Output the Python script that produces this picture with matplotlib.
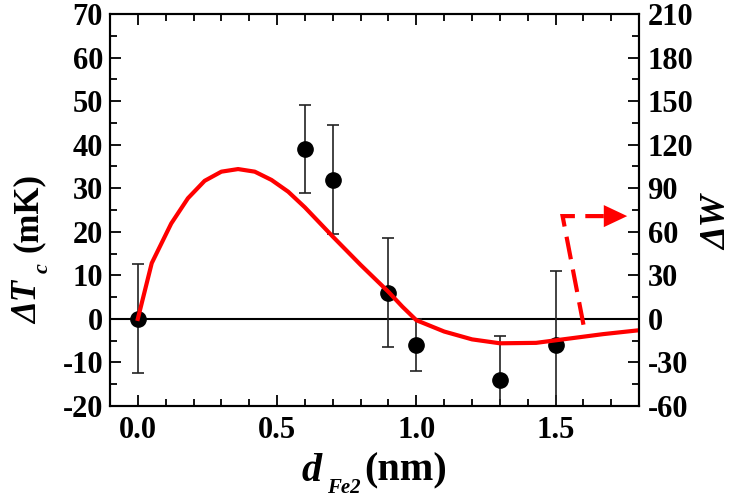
import matplotlib
matplotlib.use("Agg")
import matplotlib.pyplot as plt
from matplotlib.ticker import MultipleLocator
from matplotlib.patches import Polygon

plt.rcParams['font.family'] = ['Liberation Serif', 'DejaVu Serif']
plt.rcParams['font.weight'] = 'bold'
plt.rcParams['axes.unicode_minus'] = False

# Measured data (left axis, ΔTc in mK)
d_fe2 = [0.0, 0.6, 0.7, 0.9, 1.0, 1.3, 1.5]
delta_tc = [0.0, 39.0, 32.0, 6.0, -6.0, -14.0, -6.0]
delta_tc_err = [12.5, 10.0, 12.5, 12.5, 6.0, 10.0, 17.0]

# Theory curve (right axis, ΔW)
curve_x = [0.0, 0.05, 0.12, 0.18, 0.24, 0.30, 0.36, 0.42, 0.48, 0.54, 0.60,
           0.70, 0.80, 0.90, 0.95, 1.00, 1.10, 1.20, 1.30, 1.43, 1.55, 1.67, 1.80]
curve_w = [0.0, 38.4, 65.7, 83.1, 95.1, 101.4, 103.2, 101.4, 95.7, 87.6, 76.8,
           56.7, 37.2, 18.6, 8.4, -0.9, -8.7, -14.1, -16.8, -16.5, -13.5, -10.5, -7.8]

# Dashed arrow path (right axis coords)
arrow_x = [1.60, 1.525, 1.673]
arrow_y = [-4.0, 70.8, 70.8]
head_x = [1.673, 1.757, 1.673]
head_y = [78.4, 70.8, 63.2]

W, H = 733, 498
fig = plt.figure(figsize=(W / 100, H / 100), dpi=100)
ax = fig.add_axes([0.150, 0.1847, 0.722, 0.7872])
ax2 = ax.twinx()

ax.set_xlim(-0.1, 1.8)
ax.set_ylim(-20, 70)
ax2.set_ylim(-60, 210)

ax.axhline(0, color='black', lw=1.5, zorder=1)

ax.errorbar(d_fe2, delta_tc, yerr=delta_tc_err, fmt='o', color='black',
            ecolor='#222222', elinewidth=1.2, capsize=4, capthick=1.2,
            markersize=11, zorder=3)

ax2.plot(curve_x, curve_w, color='#ff0000', lw=3, zorder=2)
ax2.plot(arrow_x, arrow_y, color='#ff0000', lw=3, linestyle=(0, (5.5, 2.5)),
         solid_joinstyle='miter', dash_joinstyle='miter')
ax2.add_patch(Polygon(list(zip(head_x, head_y)), closed=True,
                      color='#ff0000', lw=0))

ax.xaxis.set_major_locator(MultipleLocator(0.5))
ax.xaxis.set_minor_locator(MultipleLocator(0.1))
ax.yaxis.set_major_locator(MultipleLocator(10))
ax.yaxis.set_minor_locator(MultipleLocator(5))
ax2.yaxis.set_major_locator(MultipleLocator(30))
ax2.yaxis.set_minor_locator(MultipleLocator(15))

for a in (ax, ax2):
    for s in a.spines.values():
        s.set_linewidth(1.5)

ax.tick_params(axis='both', which='both', direction='in', width=1.3,
               labelsize=22)
ax.tick_params(axis='x', which='both', top=True)
ax.tick_params(axis='x', which='major', length=8, pad=7)
ax.tick_params(axis='x', which='minor', length=5)
ax.tick_params(axis='y', which='major', length=8, pad=5, right=False)
ax.tick_params(axis='y', which='minor', length=5, right=False)
ax2.tick_params(axis='y', which='both', direction='in', width=1.3, labelsize=22)
ax2.tick_params(axis='y', which='major', length=8, pad=6)
ax2.tick_params(axis='y', which='minor', length=5)

for lab in ax.get_xticklabels() + ax.get_yticklabels() + ax2.get_yticklabels():
    lab.set_fontweight('bold')


def px(x, y):
    return x / W, 1 - y / H


bi = dict(fontweight='bold', fontstyle='italic')

# Left axis label: ΔT_c (mK), rotated
kw_rot = dict(rotation=90, rotation_mode='anchor', ha='left', va='baseline')
fig.text(*px(37, 324), 'ΔT', fontsize=25, **bi, **kw_rot)
fig.text(*px(48, 273), 'c', fontsize=16, **bi, **kw_rot)
fig.text(*px(37, 252), '(mK)', fontsize=25, fontweight='bold', **kw_rot)

# Bottom axis label: d_Fe2 (nm)
kw_h = dict(ha='left', va='baseline')
fig.text(*px(302, 481), 'd', fontsize=29, **bi, **kw_h)
fig.text(*px(327, 493), 'Fe2', fontsize=15, **bi, **kw_h)
fig.text(*px(364, 480), '(nm)', fontsize=29, fontweight='bold', **kw_h)

# Right axis label: ΔW
fig.text(*px(726, 250), 'ΔW', fontsize=26, **bi, **kw_rot)

fig.savefig('out.png', dpi=100)
